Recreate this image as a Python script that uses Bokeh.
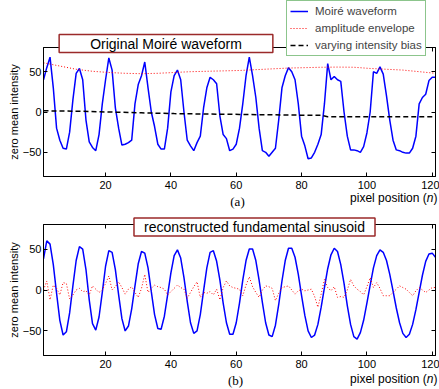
import numpy as np
from bokeh.plotting import figure
from bokeh.layouts import column
from bokeh.models import (Range1d, LinearAxis, FixedTicker, Legend, LegendItem,
                          Label, CustomJSTickFormatter)
from bokeh.embed import file_html
from bokeh.resources import INLINE

# ---------------- data ----------------
pixel = list(range(1, 122))

moire = [40, 55, 68, 30, -20, -35, -45, -46, -25, 15,
         48, 54, 40, -10, -37, -44, -48, -28, 10, 40,
         67, 52, 5, -20, -41, -40, -38, -35, 10, 34,
         45, 62, 30, 0, -18, -40, -46, -46, -20, 25,
         45, 52, 40, 0, -35, -42, -48, -38, -30, 5,
         30, 43, 40, 35, -5, -28, -33, -48, -46, -40,
         -20, 10, 45, 68, 45, 18, -20, -48, -50, -55,
         -50, -45, -10, 30, 45, 55, 50, 40, 10, -30,
         -42, -58, -57, -50, -40, -28, 10, 60, 40, 44,
         40, 38, 0, -30, -47, -47, -48, -50, -43, -26,
         0, 50, 48, 56, 47, 20, -10, -35, -47, -48,
         -50, -51, -51, -45, -30, 10, 18, 22, 39, 43, 43]

env_pixel = [1, 6, 11, 16, 21, 26, 31, 36, 41, 46, 51, 56, 61, 66, 71, 76,
             81, 86, 91, 96, 101, 106, 111, 116, 121]
envelope = [61, 57, 53, 50.5, 49, 48, 47.5, 48, 49, 50, 50.5, 51, 51.5, 52.5,
            53.5, 54.5, 55, 55.5, 55.7, 55.5, 54, 53, 52, 50, 48]

bias_pixel = [1, 11, 21, 31, 41, 51, 61, 71, 81, 86, 88, 101, 111, 121]
bias = [1.5, 1, 0, -1, -2, -2.5, -3, -3.5, -4, -4, -6, -6, -6, -6]

fundamental = [38, 60, 56, 31, -4, -37, -55, -51, -28, 5,
               36, 53, 50, 25, -12, -41, -49, -33, -3, 29,
               48, 46, 25, -6, -35, -50, -44, -23, 5, 32,
               47, 45, 27, -2, -30, -47, -48, -32, -6, 21,
               42, 49, 39, 15, -14, -40, -53, -50, -30, -1,
               27, 46, 48, 35, 12, -16, -40, -54, -54, -40,
               -16, 12, 36, 50, 50, 36, 12, -15, -40, -55,
               -57, -43, -18, 11, 36, 51, 51, 40, 19, -7,
               -31, -50, -58, -55, -42, -21, 3, 26, 43, 51,
               47, 31, 8, -19, -42, -57, -60, -52, -37, -16,
               6, 27, 42, 49, 46, 36, 19, -1, -22, -40,
               -53, -58, -54, -42, -24, -3, 18, 35, 44, 45, 40]

residual = [0, 11, -12, 6, 2, -6, 9, 8, -11, -6,
            0, 2, -2, -1, -6, 5, 1, -3, 0, 8,
            17, 0, 4, 10, 3, -5, 1, 4, -3, -9,
            2, 19, -3, 2, 6, 4, 3, 1, -6, -2,
            2, 6, 3, 1, -10, -3, 4, 10, -9, -3,
            -4, -2, -6, 1, -12, 3, 11, 5, 3, 2,
            1, -7, 6, 16, 4, -3, -9, 0, 5, 4,
            2, -13, -4, 3, 4, 5, 0, -5, -1, 1,
            -1, 0, 1, -8, -21, -5, 13, 3, -1, 4,
            -9, -8, -9, 0, 13, 5, 1, -2, -6, 4,
            15, 3, 9, 2, -7, -7, -7, -3, 1, 5,
            3, 1, -3, -7, -1, 3, 0, -3, 0, 3, 3]

x_ticks = [20, 40, 60, 80, 100, 120]
y_ticks = [-50, 0, 50]

FONT = "Liberation Sans"
SERIF = "Liberation Serif"
W, H = 439, 389
BLUE = "#0000ff"
RED = "#ff0000"
BOX_RED = "#9b2a2a"
BOX_GREEN = "#1a8c1a"


def make_fig(height, btop, bbottom):
    p = figure(width=W, height=height, x_range=Range1d(1, 121),
               y_range=Range1d(-80, 80), output_backend="svg",
               toolbar_location=None, min_border_left=43, min_border_right=4,
               min_border_top=btop, min_border_bottom=bbottom)
    p.grid.visible = False
    p.outline_line_color = "black"
    p.outline_line_width = 1
    p.background_fill_color = "white"
    p.border_fill_color = "white"
    xa = p.xaxis[0]
    ya = p.yaxis[0]
    xa.ticker = FixedTicker(ticks=x_ticks)
    ya.ticker = FixedTicker(ticks=y_ticks)
    for ax in (xa, ya):
        ax.major_tick_in = 4
        ax.major_tick_out = 0
        ax.minor_tick_in = 0
        ax.minor_tick_out = 0
        ax.axis_line_color = "black"
        ax.major_tick_line_color = "black"
        ax.major_label_text_font = FONT
        ax.major_label_text_font_size = "11px"
        ax.major_label_text_color = "black"
    xa.major_label_standoff = 4
    ya.major_label_standoff = 2
    ya.axis_label = "zero mean intensity"
    ya.axis_label_text_font = FONT
    ya.axis_label_text_font_size = "11px"
    ya.axis_label_text_font_style = "normal"
    ya.axis_label_text_color = "black"
    ya.axis_label_standoff = 0
    blank = CustomJSTickFormatter(code="return ''")
    top = LinearAxis(ticker=FixedTicker(ticks=x_ticks), formatter=blank,
                     major_tick_in=4, major_tick_out=0, minor_tick_in=0,
                     minor_tick_out=0, major_label_standoff=0)
    right = LinearAxis(ticker=FixedTicker(ticks=y_ticks), formatter=blank,
                       major_tick_in=4, major_tick_out=0, minor_tick_in=0,
                       minor_tick_out=0, major_label_standoff=0)
    p.add_layout(top, "above")
    p.add_layout(right, "right")
    return p


# ---------------- top panel ----------------
p1 = make_fig(200, 47, 24)
p1.line(pixel, moire, color=BLUE, line_width=1.5)
p1.line(env_pixel, envelope, color=RED, line_dash="1 2", line_width=1)
p1.line(bias_pixel, bias, color="black", line_dash="5 3", line_width=1.5)

# ---------------- bottom panel ----------------
p2 = make_fig(189, 24, 34)
p2.line(pixel, fundamental, color=BLUE, line_width=1.5)
p2.line(pixel, residual, color=RED, line_dash="1 2", line_width=1)

layout = column(p1, p2)

# ------------- transparent overlay for the boxed titles, legend, captions -------------
ov = figure(width=W, height=H, x_range=Range1d(0, W), y_range=Range1d(H, 0),
            output_backend="svg", toolbar_location=None, x_axis_type=None,
            y_axis_type=None, min_border=0,
            styles={"position": "absolute", "top": "0px", "left": "0px",
                    "pointer-events": "none"})
ov.grid.visible = False
ov.outline_line_color = None
ov.background_fill_alpha = 0
ov.border_fill_alpha = 0

# legend-only renderers (a single NaN point: nothing is drawn in the plot area)
nan = [float("nan")]
k1 = ov.line(x=nan, y=nan, color=BLUE, line_width=1.5)
k2 = ov.line(x=nan, y=nan, color=RED, line_dash="1 2", line_width=1)
k3 = ov.line(x=nan, y=nan, color="black", line_dash="5 3", line_width=1.5)
legend = Legend(items=[LegendItem(label="Moiré waveform", renderers=[k1]),
                       LegendItem(label="amplitude envelope", renderers=[k2]),
                       LegendItem(label="varying intensity bias", renderers=[k3])],
                location=(286, H - 56), margin=0, padding=3, spacing=3,
                glyph_width=18, glyph_height=14, label_height=14, label_standoff=7,
                label_text_font=FONT, label_text_font_size="11.5px",
                border_line_color=BOX_GREEN, border_line_width=1.5,
                background_fill_color="white", background_fill_alpha=1)
ov.add_layout(legend)

ov.add_layout(Label(x=165.5, y=43, text="Original Moiré waveform",
                    text_align="center", text_baseline="middle", text_font=FONT,
                    text_font_size="14px", text_color="black",
                    background_fill_color="white", border_line_color=BOX_RED,
                    border_line_width=1.5, padding=(31, 1)))
ov.add_layout(Label(x=254, y=226.5, text="reconstructed fundamental sinusoid",
                    text_align="center", text_baseline="middle", text_font=FONT,
                    text_font_size="14px", text_color="black",
                    background_fill_color="white", border_line_color=BOX_RED,
                    border_line_width=1.5, padding=(10, 1)))


def caption(xpos_y, tag, tag_x, tag_y):
    ov.add_layout(Label(x=437, y=xpos_y, text=")", text_align="right",
                        text_baseline="middle", text_font=FONT,
                        text_font_size="12px", text_color="black"))
    ov.add_layout(Label(x=433, y=xpos_y, text="n", text_align="right",
                        text_baseline="middle", text_font=FONT,
                        text_font_size="12px", text_color="black",
                        text_font_style="italic"))
    ov.add_layout(Label(x=426.3, y=xpos_y, text="pixel position (", text_align="right",
                        text_baseline="middle", text_font=FONT,
                        text_font_size="12px", text_color="black"))
    ov.add_layout(Label(x=tag_x, y=tag_y, text=tag, text_align="center",
                        text_baseline="middle", text_font=SERIF,
                        text_font_size="13px", text_color="black"))


caption(197, "(a)", 237, 201)
caption(378, "(b)", 235, 380)

open("out.html", "w").write(file_html([layout, ov], INLINE))
